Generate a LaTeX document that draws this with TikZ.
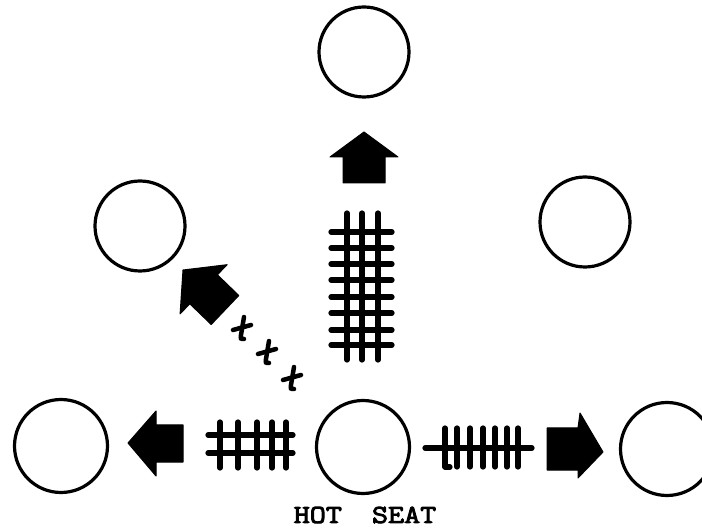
\documentclass[tikz,border=0pt]{standalone}
\usepackage{fontspec}
\newfontfamily\typew{Latin Modern Mono}[FakeBold=3.5,FakeStretch=1.2]
\begin{document}
\begin{tikzpicture}[x=1pt,y=-1pt,
  seat/.style={circle,draw=black,line width=3.2pt,minimum size=90pt,inner sep=0pt},
  blockarrow/.style={fill=black,draw=black,line width=1pt,line join=round},
  hatch/.style={line width=5.2pt,line cap=round},
  tally/.style={line width=4.5pt,line cap=round}]
\useasboundingbox (0,0) rectangle (702,529);
% seats
\node[seat] (top) at (364,52) {};
\node[seat] (ul) at (140,226) {};
\node[seat] (ur) at (585,222) {};
\node[seat,minimum size=93pt] (bl) at (61,446) {};
\node[seat,minimum size=93pt] (hot) at (363,447) {};
\node[seat,minimum size=93pt] (br) at (667,449) {};
\node[font=\typew\fontsize{26}{28}\selectfont,inner sep=0pt] (lbl) at (365,515) {HOT\hspace{14pt} SEAT};
% up arrow
\fill[blockarrow] (364,132) -- (398,157) -- (385,157) -- (385,183) -- (343,183) -- (343,157) -- (330,157) -- cycle;
% vertical hatch
\foreach \x in {347,362,378} \draw[hatch] (\x,213) -- (\x,360);
\foreach \y in {232,248,264,280,297,313,330,345} \draw[hatch] (331,\y) -- (392,\y);
% diagonal arrow
\fill[blockarrow] (183,270) -- (227.1,264.7) -- (217.4,274.8) -- (238.8,295.5) -- (211.2,324.5) -- (189.8,303.8) -- (180.1,313.9) -- cycle;
% tally crosses
\foreach \cx/\cy in {242/328,267/352,292/378} {
  \draw[tally] (\cx+2,\cy-11) -- (\cx-1,\cy+7) .. controls (\cx-1.5,\cy+11) .. (\cx+2,\cy+11);
  \draw[tally] (\cx-9,\cy+2) -- (\cx+9,\cy-3);
}
% left arrow
\fill[blockarrow] (128,443) -- (156,411) -- (156,425) -- (183,425) -- (183,462) -- (156,462) -- (156,476) -- cycle;
% left hatch
\foreach \x in {220,238,257,272,286} \draw[hatch] (\x,422) -- (\x,468);
\foreach \y in {435,453} \draw[hatch] (208,\y) -- (293,\y);
% right hatch
\draw[hatch] (425,448) -- (532,448);
\foreach \x in {445,457,470,483,495,507,518} \draw[hatch] (\x,428) -- (\x,467);
\draw[hatch] (445,467) -- (450,467);
% right arrow
\fill[blockarrow] (547,428) -- (578,428) -- (580,413) -- (603,452) -- (578,478) -- (578,470) -- (547,470) -- cycle;
\end{tikzpicture}
\end{document}
